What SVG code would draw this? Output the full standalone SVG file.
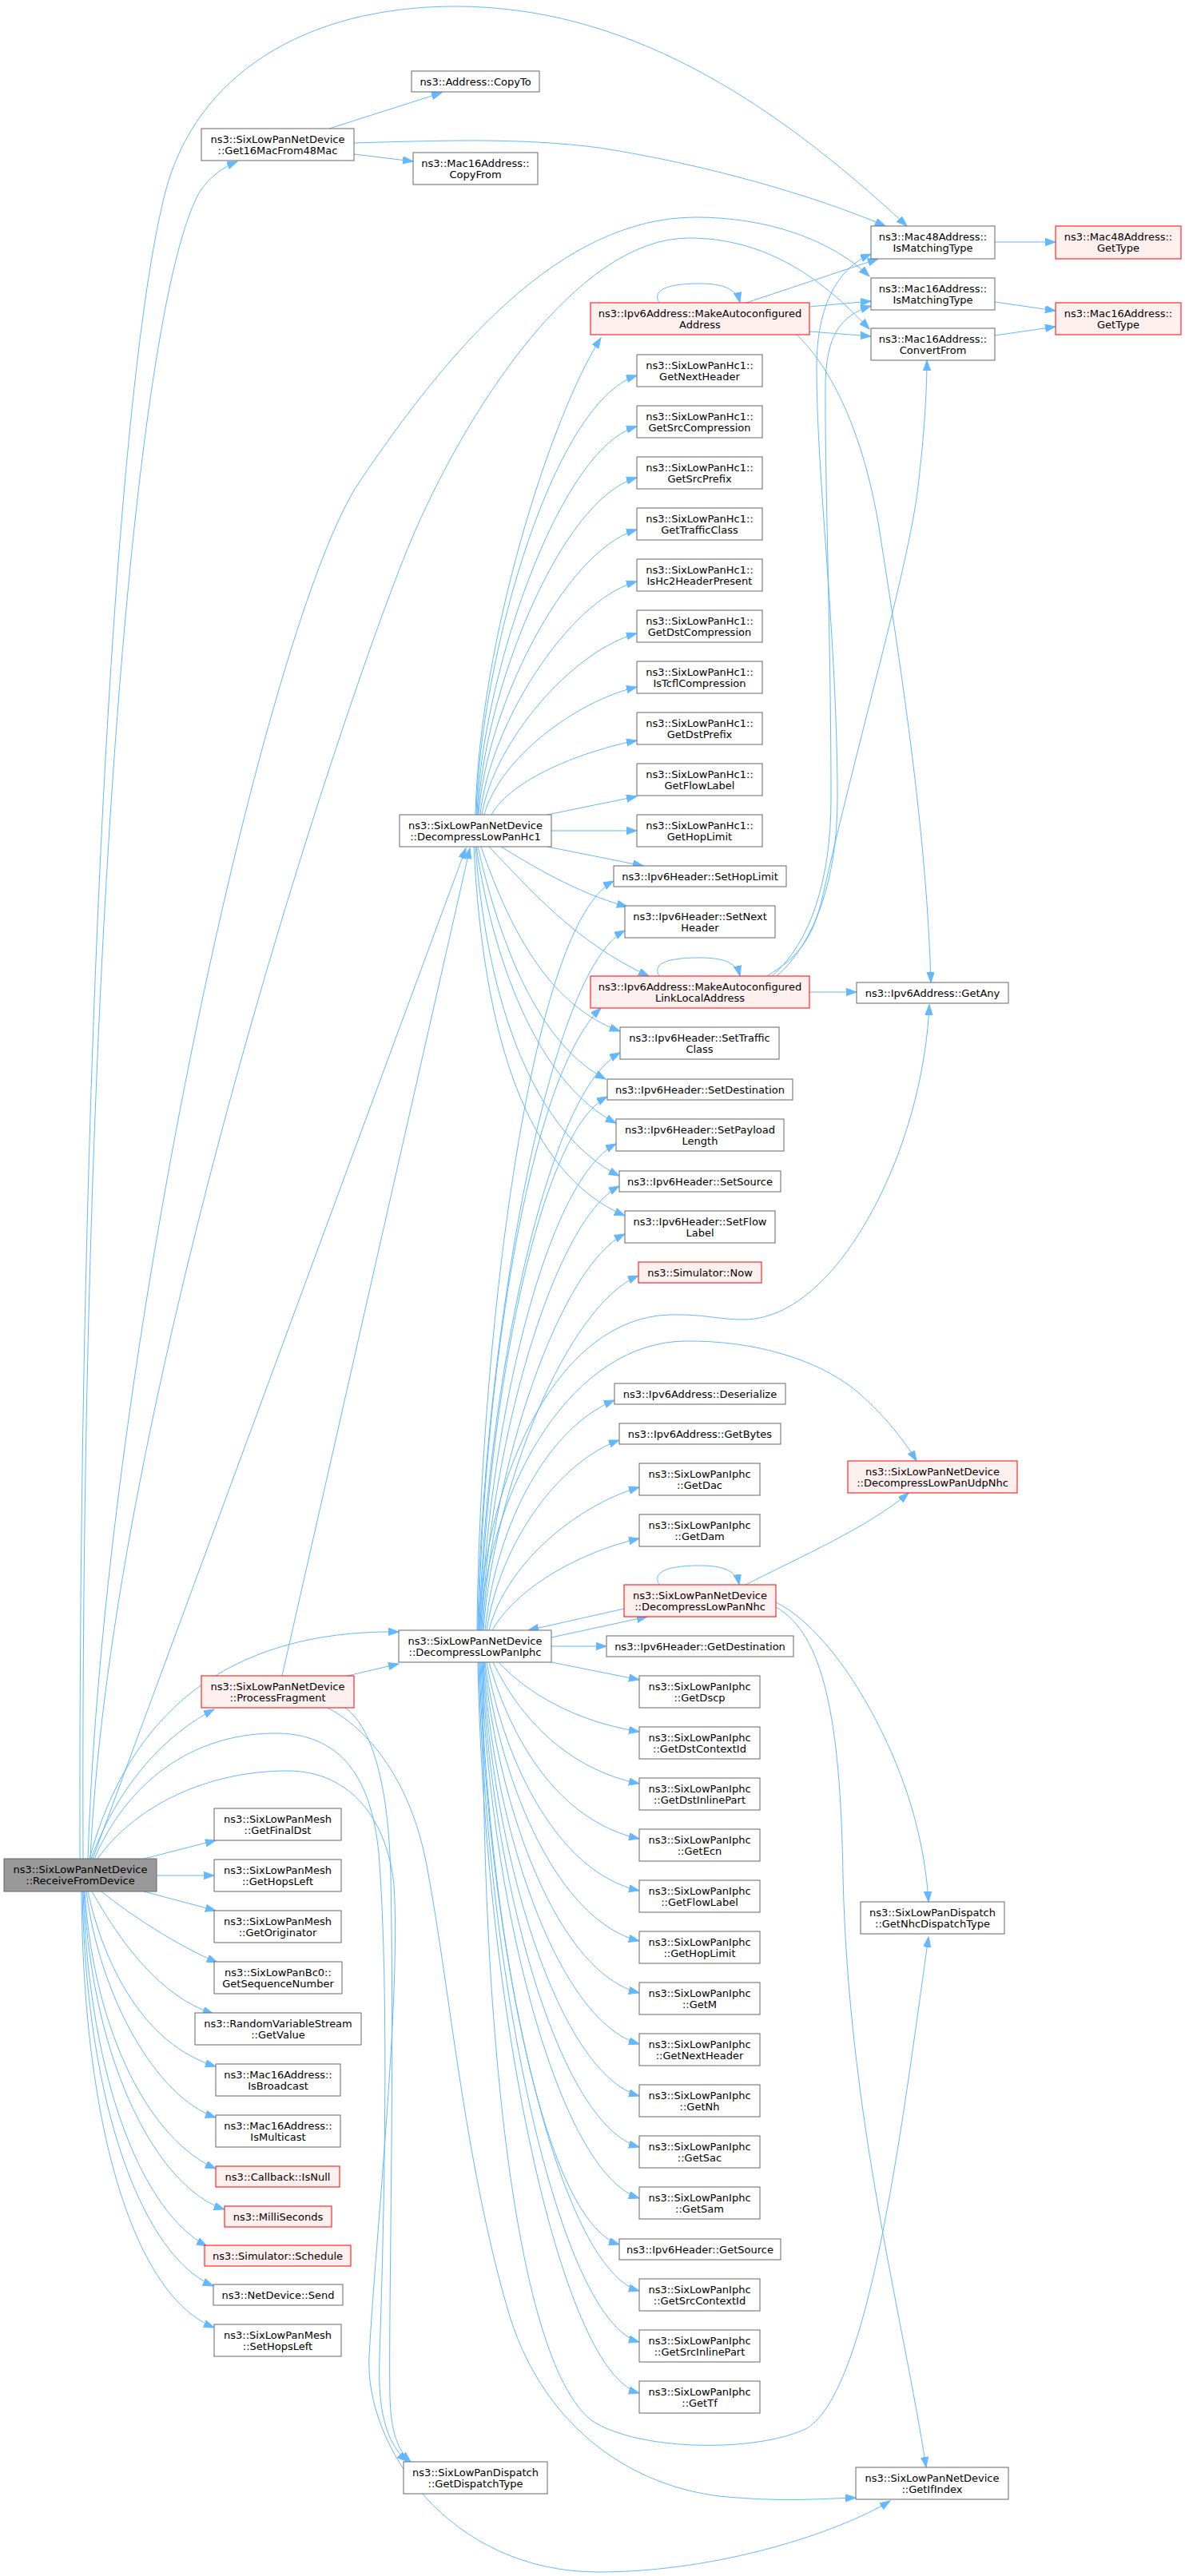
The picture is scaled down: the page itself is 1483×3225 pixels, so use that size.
<svg xmlns="http://www.w3.org/2000/svg" width="1483" height="3225" viewBox="0 0 1483 3225">
<style>
text{font-family:"DejaVu Sans","Liberation Sans",sans-serif;font-size:13px;text-anchor:middle;fill:#000}
.n rect{fill:#fff;stroke:#666;stroke-width:1}
.r rect{fill:#fff0f0;stroke:#ff0000;stroke-width:1}
.root rect{fill:#999;stroke:#666;stroke-width:1}
#edges path{fill:none;stroke:#63b8ff;stroke-width:1;marker-end:url(#ah)}
</style>
<defs>
<marker id="ah" markerUnits="userSpaceOnUse" markerWidth="14" markerHeight="10" refX="13" refY="4.65" orient="auto" viewBox="0 0 14 10">
<path d="M0,0 L13,4.65 L0,9.3 Z" fill="#63b8ff" stroke="#63b8ff"/>
</marker>
</defs>
<rect x="0" y="0" width="1483" height="3225" fill="#fff"/>
<g id="edges">
<path d="M104,2327 C100,1200 170,380 250,240 C262,222 278,210 297,202"/>
<path d="M100,2327 C98,1400 140,500 207,240 C245,95 380,8 570,8 C780,8 960,120 1135,283"/>
<path d="M110,2327 C130,1700 335,773 450,603 C560,440 700,272 871,272 C960,272 1040,300 1088,346"/>
<path d="M113,2327 C140,1750 430,880 513,680 C580,520 720,298 862,298 C960,298 1030,350 1088,412"/>
<path d="M116,2327 L583,1062"/>
<path d="M112,2327 C160,2150 280,2040 499,2043"/>
<path d="M114,2327 C150,2230 210,2170 268,2140"/>
<path d="M180,2327 L270,2304"/>
<path d="M196,2348 L268,2348"/>
<path d="M180,2368 L270,2392"/>
<path d="M127,2368 C160,2395 220,2435 272,2457"/>
<path d="M115,2368 C150,2430 200,2500 267,2521"/>
<path d="M110,2368 C130,2460 180,2560 270,2587"/>
<path d="M108,2368 C125,2500 195,2625 270,2651"/>
<path d="M106,2368 C118,2550 190,2680 270,2715"/>
<path d="M105,2368 C116,2590 200,2740 281,2766"/>
<path d="M104,2368 C112,2610 180,2770 259,2812"/>
<path d="M103,2368 C108,2640 180,2825 267,2862"/>
<path d="M102,2368 C104,2670 170,2875 268,2914"/>
<path d="M118,2327 C160,2230 240,2172 340,2170 C430,2168 465,2230 474,2320 C488,2500 480,2800 475,2950 C472,3030 488,3062 510,3082"/>
<path d="M122,2327 C170,2260 260,2217 360,2217 C440,2217 485,2280 493,2360 C502,2500 470,2800 462,2950 C456,3060 560,3220 749,3220 C900,3220 1050,3170 1114,3131"/>
<path d="M353,2098 L588,1062"/>
<path d="M435,2098 L499,2083"/>
<path d="M432,2138 C470,2165 487,2250 489,2350 C494,2600 486,2900 488,3000 C489,3045 498,3068 514,3082"/>
<path d="M410,2138 C470,2170 515,2240 533,2330 C562,2480 580,2700 635,2890 C675,3030 780,3110 900,3125 C980,3133 1030,3128 1071,3127"/>
<path d="M412,161 L553,116"/>
<path d="M443,179 C550,176 650,172 750,185 C880,205 1020,245 1108,283"/>
<path d="M443,193 L517,202"/>
<path d="M1245,303 L1321,303"/>
<path d="M1245,378 L1321,389"/>
<path d="M1245,420 L1321,409"/>
<path d="M825,379 C815,362 838,355 876,355 C905,355 922,362 926,379"/>
<path d="M934,379 L1099,324"/>
<path d="M1013,384 L1090,377"/>
<path d="M1013,415 L1090,421"/>
<path d="M997,419 C1040,460 1080,540 1100,660 C1130,850 1160,1050 1165,1230"/>
<path d="M825,1222 C815,1205 838,1199 876,1199 C905,1199 922,1205 926,1222"/>
<path d="M972,1222 C1020,1180 1048,1100 1048,1000 C1048,800 1022,600 1022,460 C1022,380 1050,335 1090,318"/>
<path d="M966,1222 C1015,1180 1040,1100 1040,1000 C1040,800 1032,600 1033,480 C1034,420 1052,395 1090,383"/>
<path d="M960,1222 C995,1200 1017,1180 1030,1120 C1080,900 1140,700 1150,600 C1158,530 1160,480 1160,451"/>
<path d="M1013,1242 L1072,1242"/>
<path d="M595,1020 C600,800 690,520 752,423"/>
<path d="M596,1020 C600,830 690,505 797,470"/>
<path d="M597,1020 C602,850 700,560 797,534"/>
<path d="M598,1020 C605,870 700,625 797,598"/>
<path d="M599,1020 C608,890 705,690 797,663"/>
<path d="M601,1020 C612,910 710,752 797,728"/>
<path d="M603,1020 C618,930 715,815 797,793"/>
<path d="M606,1020 C625,950 720,878 797,860"/>
<path d="M615,1020 C640,975 730,940 797,927"/>
<path d="M685,1020 L797,997"/>
<path d="M690,1040 L797,1040"/>
<path d="M685,1060 L805,1084"/>
<path d="M627,1060 C660,1080 720,1118 785,1135"/>
<path d="M612,1060 C660,1110 720,1180 812,1222"/>
<path d="M602,1060 C640,1170 690,1260 776,1291"/>
<path d="M598,1060 C630,1200 680,1310 758,1351"/>
<path d="M596,1060 C620,1220 680,1360 771,1406"/>
<path d="M595,1060 C610,1260 670,1420 775,1472"/>
<path d="M593,1060 C605,1300 660,1470 782,1522"/>
<path d="M597,2041 C600,1700 660,1160 768,1103"/>
<path d="M598,2041 C602,1720 680,1220 782,1165"/>
<path d="M599,2041 C604,1740 660,1350 752,1262"/>
<path d="M600,2041 C606,1760 680,1370 776,1318"/>
<path d="M601,2041 C608,1780 670,1420 760,1373"/>
<path d="M602,2041 C610,1800 680,1480 771,1432"/>
<path d="M603,2041 C612,1820 690,1530 775,1485"/>
<path d="M604,2041 C615,1840 700,1585 782,1545"/>
<path d="M605,2041 C618,1860 710,1635 799,1597"/>
<path d="M607,2041 C622,1900 690,1785 769,1753"/>
<path d="M609,2041 C626,1930 700,1830 775,1803"/>
<path d="M612,2041 C632,1960 720,1885 800,1862"/>
<path d="M616,2041 C645,1990 720,1945 800,1926"/>
<path d="M598,2041 C610,1840 700,1650 838,1646 C880,1645 900,1652 930,1652 C1000,1652 1060,1580 1100,1500 C1140,1420 1160,1330 1163,1258"/>
<path d="M600,2041 C615,1850 720,1680 858,1679 C940,1678 1020,1700 1070,1740 C1100,1765 1130,1800 1147,1829"/>
<path d="M690,2050 L810,2024"/>
<path d="M690,2061 L759,2061"/>
<path d="M690,2081 L800,2103"/>
<path d="M624,2081 C660,2120 720,2155 800,2168"/>
<path d="M617,2081 C650,2150 710,2215 800,2233"/>
<path d="M612,2081 C640,2180 700,2280 800,2302"/>
<path d="M609,2081 C632,2210 700,2345 800,2367"/>
<path d="M607,2081 C628,2240 700,2405 800,2430"/>
<path d="M606,2081 C624,2270 700,2470 800,2495"/>
<path d="M605,2081 C620,2300 700,2530 800,2559"/>
<path d="M604,2081 C618,2330 700,2595 800,2624"/>
<path d="M603,2081 C616,2360 700,2660 800,2688"/>
<path d="M602,2081 C614,2390 700,2720 800,2752"/>
<path d="M601,2081 C612,2420 680,2780 775,2810"/>
<path d="M600,2081 C610,2450 700,2840 800,2868"/>
<path d="M599,2081 C608,2480 700,2905 800,2932"/>
<path d="M598,2081 C606,2510 700,2968 800,2996"/>
<path d="M605,2081 C600,2500 640,2950 740,3030 C800,3070 950,3070 1010,3040 C1090,2990 1130,2650 1162,2425"/>
<path d="M825,1984 C815,1967 838,1960 876,1960 C905,1960 922,1967 925,1984"/>
<path d="M781,2014 L661,2041"/>
<path d="M933,1984 C1000,1950 1090,1910 1137,1869"/>
<path d="M971,2006 C1040,2040 1110,2160 1140,2260 C1155,2310 1160,2350 1162,2381"/>
<path d="M971,2012 C1030,2045 1052,2150 1055,2350 C1062,2650 1130,2900 1159,3089"/>
</g>
<g id="n_root" class="root"><rect x="5" y="2327" width="191" height="41"/><text x="100.5" y="2344.5">ns3::SixLowPanNetDevice</text><text x="100.5" y="2358.5">::ReceiveFromDevice</text></g>
<g id="n_g16" class="n"><rect x="252" y="161" width="191" height="40"/><text x="347.5" y="178.5">ns3::SixLowPanNetDevice</text><text x="347.5" y="192.5">::Get16MacFrom48Mac</text></g>
<g id="n_copyto" class="n"><rect x="515" y="89" width="160" height="26"/><text x="595" y="106.5">ns3::Address::CopyTo</text></g>
<g id="n_copyfrom" class="n"><rect x="517" y="191" width="156" height="40"/><text x="595" y="208.5">ns3::Mac16Address::</text><text x="595" y="222.5">CopyFrom</text></g>
<g id="n_m48match" class="n"><rect x="1090" y="283" width="155" height="41"/><text x="1167.5" y="300.5">ns3::Mac48Address::</text><text x="1167.5" y="314.5">IsMatchingType</text></g>
<g id="n_m48type" class="r"><rect x="1321" y="283" width="157" height="41"/><text x="1399.5" y="300.5">ns3::Mac48Address::</text><text x="1399.5" y="314.5">GetType</text></g>
<g id="n_m16match" class="n"><rect x="1090" y="348" width="155" height="40"/><text x="1167.5" y="365.5">ns3::Mac16Address::</text><text x="1167.5" y="379.5">IsMatchingType</text></g>
<g id="n_m16type" class="r"><rect x="1321" y="379" width="157" height="40"/><text x="1399.5" y="396.5">ns3::Mac16Address::</text><text x="1399.5" y="410.5">GetType</text></g>
<g id="n_convert" class="n"><rect x="1090" y="411" width="155" height="40"/><text x="1167.5" y="428.5">ns3::Mac16Address::</text><text x="1167.5" y="442.5">ConvertFrom</text></g>
<g id="n_mkaddr" class="r"><rect x="739" y="379" width="274" height="40"/><text x="876" y="396.5">ns3::Ipv6Address::MakeAutoconfigured</text><text x="876" y="410.5">Address</text></g>
<g id="n_hc1_nh" class="n"><rect x="797" y="444" width="157" height="40"/><text x="875.5" y="461.5">ns3::SixLowPanHc1::</text><text x="875.5" y="475.5">GetNextHeader</text></g>
<g id="n_hc1_sc" class="n"><rect x="797" y="508" width="157" height="40"/><text x="875.5" y="525.5">ns3::SixLowPanHc1::</text><text x="875.5" y="539.5">GetSrcCompression</text></g>
<g id="n_hc1_sp" class="n"><rect x="797" y="572" width="157" height="40"/><text x="875.5" y="589.5">ns3::SixLowPanHc1::</text><text x="875.5" y="603.5">GetSrcPrefix</text></g>
<g id="n_hc1_tc" class="n"><rect x="797" y="636" width="157" height="40"/><text x="875.5" y="653.5">ns3::SixLowPanHc1::</text><text x="875.5" y="667.5">GetTrafficClass</text></g>
<g id="n_hc1_hc2" class="n"><rect x="797" y="700" width="157" height="40"/><text x="875.5" y="717.5">ns3::SixLowPanHc1::</text><text x="875.5" y="731.5">IsHc2HeaderPresent</text></g>
<g id="n_hc1_dc" class="n"><rect x="797" y="764" width="157" height="40"/><text x="875.5" y="781.5">ns3::SixLowPanHc1::</text><text x="875.5" y="795.5">GetDstCompression</text></g>
<g id="n_hc1_tcfl" class="n"><rect x="797" y="828" width="157" height="40"/><text x="875.5" y="845.5">ns3::SixLowPanHc1::</text><text x="875.5" y="859.5">IsTcflCompression</text></g>
<g id="n_hc1_dp" class="n"><rect x="797" y="892" width="157" height="40"/><text x="875.5" y="909.5">ns3::SixLowPanHc1::</text><text x="875.5" y="923.5">GetDstPrefix</text></g>
<g id="n_hc1_fl" class="n"><rect x="797" y="956" width="157" height="40"/><text x="875.5" y="973.5">ns3::SixLowPanHc1::</text><text x="875.5" y="987.5">GetFlowLabel</text></g>
<g id="n_hc1_hl" class="n"><rect x="797" y="1020" width="157" height="40"/><text x="875.5" y="1037.5">ns3::SixLowPanHc1::</text><text x="875.5" y="1051.5">GetHopLimit</text></g>
<g id="n_hc1" class="n"><rect x="500" y="1020" width="190" height="40"/><text x="595" y="1037.5">ns3::SixLowPanNetDevice</text><text x="595" y="1051.5">::DecompressLowPanHc1</text></g>
<g id="n_sethl" class="n"><rect x="768" y="1084" width="216" height="26"/><text x="876" y="1101.5">ns3::Ipv6Header::SetHopLimit</text></g>
<g id="n_setnh" class="n"><rect x="782" y="1134" width="188" height="40"/><text x="876" y="1151.5">ns3::Ipv6Header::SetNext</text><text x="876" y="1165.5">Header</text></g>
<g id="n_linklocal" class="r"><rect x="739" y="1222" width="274" height="40"/><text x="876" y="1239.5">ns3::Ipv6Address::MakeAutoconfigured</text><text x="876" y="1253.5">LinkLocalAddress</text></g>
<g id="n_getany" class="n"><rect x="1072" y="1230" width="190" height="26"/><text x="1167" y="1247.5">ns3::Ipv6Address::GetAny</text></g>
<g id="n_settc" class="n"><rect x="776" y="1286" width="199" height="40"/><text x="875.5" y="1303.5">ns3::Ipv6Header::SetTraffic</text><text x="875.5" y="1317.5">Class</text></g>
<g id="n_setdst" class="n"><rect x="760" y="1351" width="232" height="26"/><text x="876" y="1368.5">ns3::Ipv6Header::SetDestination</text></g>
<g id="n_setpl" class="n"><rect x="771" y="1401" width="210" height="40"/><text x="876" y="1418.5">ns3::Ipv6Header::SetPayload</text><text x="876" y="1432.5">Length</text></g>
<g id="n_setsrc" class="n"><rect x="775" y="1466" width="202" height="26"/><text x="876" y="1483.5">ns3::Ipv6Header::SetSource</text></g>
<g id="n_setfl" class="n"><rect x="782" y="1516" width="188" height="40"/><text x="876" y="1533.5">ns3::Ipv6Header::SetFlow</text><text x="876" y="1547.5">Label</text></g>
<g id="n_now" class="r"><rect x="799" y="1580" width="154" height="26"/><text x="876" y="1597.5">ns3::Simulator::Now</text></g>
<g id="n_deser" class="n"><rect x="769" y="1732" width="214" height="26"/><text x="876" y="1749.5">ns3::Ipv6Address::Deserialize</text></g>
<g id="n_getbytes" class="n"><rect x="775" y="1782" width="202" height="26"/><text x="876" y="1799.5">ns3::Ipv6Address::GetBytes</text></g>
<g id="n_dac" class="n"><rect x="800" y="1832" width="151" height="40"/><text x="875.5" y="1849.5">ns3::SixLowPanIphc</text><text x="875.5" y="1863.5">::GetDac</text></g>
<g id="n_dam" class="n"><rect x="800" y="1896" width="151" height="40"/><text x="875.5" y="1913.5">ns3::SixLowPanIphc</text><text x="875.5" y="1927.5">::GetDam</text></g>
<g id="n_udpnhc" class="r"><rect x="1061" y="1829" width="212" height="40"/><text x="1167" y="1846.5">ns3::SixLowPanNetDevice</text><text x="1167" y="1860.5">::DecompressLowPanUdpNhc</text></g>
<g id="n_nhc" class="r"><rect x="781" y="1984" width="190" height="40"/><text x="876" y="2001.5">ns3::SixLowPanNetDevice</text><text x="876" y="2015.5">::DecompressLowPanNhc</text></g>
<g id="n_iphc" class="n"><rect x="499" y="2041" width="191" height="40"/><text x="594.5" y="2058.5">ns3::SixLowPanNetDevice</text><text x="594.5" y="2072.5">::DecompressLowPanIphc</text></g>
<g id="n_getdest" class="n"><rect x="759" y="2048" width="234" height="26"/><text x="876" y="2065.5">ns3::Ipv6Header::GetDestination</text></g>
<g id="n_dscp" class="n"><rect x="800" y="2098" width="151" height="40"/><text x="875.5" y="2115.5">ns3::SixLowPanIphc</text><text x="875.5" y="2129.5">::GetDscp</text></g>
<g id="n_dstctx" class="n"><rect x="800" y="2162" width="151" height="40"/><text x="875.5" y="2179.5">ns3::SixLowPanIphc</text><text x="875.5" y="2193.5">::GetDstContextId</text></g>
<g id="n_dstinl" class="n"><rect x="800" y="2226" width="151" height="40"/><text x="875.5" y="2243.5">ns3::SixLowPanIphc</text><text x="875.5" y="2257.5">::GetDstInlinePart</text></g>
<g id="n_ecn" class="n"><rect x="800" y="2290" width="151" height="40"/><text x="875.5" y="2307.5">ns3::SixLowPanIphc</text><text x="875.5" y="2321.5">::GetEcn</text></g>
<g id="n_iflow" class="n"><rect x="800" y="2354" width="151" height="40"/><text x="875.5" y="2371.5">ns3::SixLowPanIphc</text><text x="875.5" y="2385.5">::GetFlowLabel</text></g>
<g id="n_ihop" class="n"><rect x="800" y="2418" width="151" height="40"/><text x="875.5" y="2435.5">ns3::SixLowPanIphc</text><text x="875.5" y="2449.5">::GetHopLimit</text></g>
<g id="n_getm" class="n"><rect x="800" y="2482" width="151" height="40"/><text x="875.5" y="2499.5">ns3::SixLowPanIphc</text><text x="875.5" y="2513.5">::GetM</text></g>
<g id="n_inext" class="n"><rect x="800" y="2546" width="151" height="40"/><text x="875.5" y="2563.5">ns3::SixLowPanIphc</text><text x="875.5" y="2577.5">::GetNextHeader</text></g>
<g id="n_getnh" class="n"><rect x="800" y="2610" width="151" height="40"/><text x="875.5" y="2627.5">ns3::SixLowPanIphc</text><text x="875.5" y="2641.5">::GetNh</text></g>
<g id="n_sac" class="n"><rect x="800" y="2674" width="151" height="40"/><text x="875.5" y="2691.5">ns3::SixLowPanIphc</text><text x="875.5" y="2705.5">::GetSac</text></g>
<g id="n_sam" class="n"><rect x="800" y="2738" width="151" height="40"/><text x="875.5" y="2755.5">ns3::SixLowPanIphc</text><text x="875.5" y="2769.5">::GetSam</text></g>
<g id="n_getsrc" class="n"><rect x="775" y="2803" width="202" height="26"/><text x="876" y="2820.5">ns3::Ipv6Header::GetSource</text></g>
<g id="n_srcctx" class="n"><rect x="800" y="2853" width="151" height="40"/><text x="875.5" y="2870.5">ns3::SixLowPanIphc</text><text x="875.5" y="2884.5">::GetSrcContextId</text></g>
<g id="n_srcinl" class="n"><rect x="800" y="2917" width="151" height="40"/><text x="875.5" y="2934.5">ns3::SixLowPanIphc</text><text x="875.5" y="2948.5">::GetSrcInlinePart</text></g>
<g id="n_tf" class="n"><rect x="800" y="2981" width="151" height="40"/><text x="875.5" y="2998.5">ns3::SixLowPanIphc</text><text x="875.5" y="3012.5">::GetTf</text></g>
<g id="n_nhcdisp" class="n"><rect x="1077" y="2381" width="180" height="40"/><text x="1167" y="2398.5">ns3::SixLowPanDispatch</text><text x="1167" y="2412.5">::GetNhcDispatchType</text></g>
<g id="n_ifindex" class="n"><rect x="1071" y="3089" width="191" height="40"/><text x="1166.5" y="3106.5">ns3::SixLowPanNetDevice</text><text x="1166.5" y="3120.5">::GetIfIndex</text></g>
<g id="n_dispatch" class="n"><rect x="505" y="3082" width="180" height="40"/><text x="595" y="3099.5">ns3::SixLowPanDispatch</text><text x="595" y="3113.5">::GetDispatchType</text></g>
<g id="n_pf" class="r"><rect x="252" y="2098" width="191" height="40"/><text x="347.5" y="2115.5">ns3::SixLowPanNetDevice</text><text x="347.5" y="2129.5">::ProcessFragment</text></g>
<g id="n_finaldst" class="n"><rect x="268" y="2264" width="159" height="40"/><text x="347.5" y="2281.5">ns3::SixLowPanMesh</text><text x="347.5" y="2295.5">::GetFinalDst</text></g>
<g id="n_hopsleft" class="n"><rect x="268" y="2328" width="159" height="40"/><text x="347.5" y="2345.5">ns3::SixLowPanMesh</text><text x="347.5" y="2359.5">::GetHopsLeft</text></g>
<g id="n_orig" class="n"><rect x="268" y="2392" width="159" height="40"/><text x="347.5" y="2409.5">ns3::SixLowPanMesh</text><text x="347.5" y="2423.5">::GetOriginator</text></g>
<g id="n_seq" class="n"><rect x="268" y="2456" width="160" height="40"/><text x="348" y="2473.5">ns3::SixLowPanBc0::</text><text x="348" y="2487.5">GetSequenceNumber</text></g>
<g id="n_getvalue" class="n"><rect x="244" y="2520" width="208" height="40"/><text x="348" y="2537.5">ns3::RandomVariableStream</text><text x="348" y="2551.5">::GetValue</text></g>
<g id="n_bcast" class="n"><rect x="270" y="2584" width="156" height="40"/><text x="348" y="2601.5">ns3::Mac16Address::</text><text x="348" y="2615.5">IsBroadcast</text></g>
<g id="n_mcast" class="n"><rect x="270" y="2648" width="156" height="40"/><text x="348" y="2665.5">ns3::Mac16Address::</text><text x="348" y="2679.5">IsMulticast</text></g>
<g id="n_isnull" class="r"><rect x="270" y="2712" width="155" height="26"/><text x="347.5" y="2729.5">ns3::Callback::IsNull</text></g>
<g id="n_ms" class="r"><rect x="281" y="2762" width="134" height="26"/><text x="348" y="2779.5">ns3::MilliSeconds</text></g>
<g id="n_sched" class="r"><rect x="256" y="2811" width="183" height="26"/><text x="347.5" y="2828.5">ns3::Simulator::Schedule</text></g>
<g id="n_send" class="n"><rect x="267" y="2860" width="162" height="26"/><text x="348" y="2877.5">ns3::NetDevice::Send</text></g>
<g id="n_sethops" class="n"><rect x="268" y="2910" width="159" height="40"/><text x="347.5" y="2927.5">ns3::SixLowPanMesh</text><text x="347.5" y="2941.5">::SetHopsLeft</text></g>
</svg>
